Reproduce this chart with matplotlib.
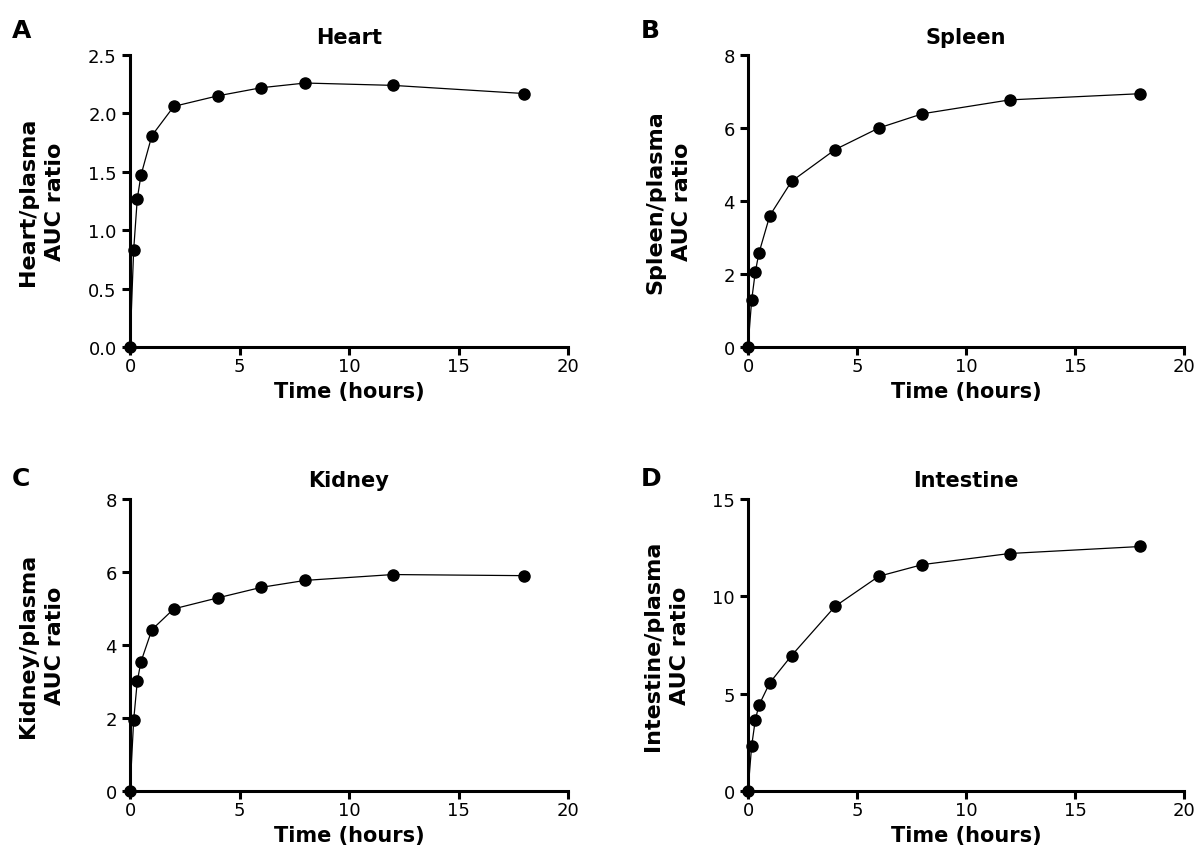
import matplotlib
matplotlib.use('Agg')
import matplotlib.pyplot as plt

# sampling times (hours)
time = [0, 0.167, 0.333, 0.5, 1, 2, 4, 6, 8, 12, 18]

heart = [0, 0.83, 1.27, 1.47, 1.81, 2.06, 2.15, 2.22, 2.26, 2.24, 2.17]
spleen = [0, 1.28, 2.05, 2.57, 3.60, 4.54, 5.41, 6.00, 6.39, 6.77, 6.94]
kidney = [0, 1.94, 3.01, 3.54, 4.42, 4.99, 5.29, 5.58, 5.77, 5.93, 5.90]
intestine = [0, 2.31, 3.64, 4.40, 5.56, 6.96, 9.49, 11.03, 11.63, 12.20, 12.56]

panels = [
    ('A', 'Heart', 'Heart/plasma\nAUC ratio', heart, 2.5, [0, 0.5, 1.0, 1.5, 2.0, 2.5], '%.1f'),
    ('B', 'Spleen', 'Spleen/plasma\nAUC ratio', spleen, 8, [0, 2, 4, 6, 8], '%d'),
    ('C', 'Kidney', 'Kidney/plasma\nAUC ratio', kidney, 8, [0, 2, 4, 6, 8], '%d'),
    ('D', 'Intestine', 'Intestine/plasma\nAUC ratio', intestine, 15, [0, 5, 10, 15], '%d'),
]

W, H = 1199, 862
fig = plt.figure(figsize=(W / 100, H / 100), dpi=100)

# axes boxes in pixels: left, y of x-axis, width
boxes = [(130, 348, 438), (748, 348, 436), (130, 792, 438), (748, 792, 436)]
letter_pos = [(12, 38), (641, 38), (12, 486), (641, 486)]
ylab_x = [-0.148, -0.128, -0.148, -0.133]

for i, (letter, title, ylab, vals, ytop, yticks, fmt) in enumerate(panels):
    left, ybase, width = boxes[i]
    ax = fig.add_axes([left / W, 1 - ybase / H, width / W, 292 / H])
    ax.plot(time, vals, color='black', lw=0.9, marker='o', ms=8, clip_on=False, zorder=3)
    ax.set_xlim(0, 20)
    ax.set_ylim(0, ytop)
    ax.set_xticks([0, 5, 10, 15, 20])
    ax.set_yticks(yticks)
    ax.set_yticklabels([fmt % v for v in yticks])
    for s in ['top', 'right']:
        ax.spines[s].set_visible(False)
    for s in ['left', 'bottom']:
        ax.spines[s].set_linewidth(2.2)
    ax.tick_params(direction='out', length=5.5, width=2.2, labelsize=13)
    ax.tick_params(axis='y', pad=4)
    ax.tick_params(axis='x', pad=2)
    ax.set_title(title, fontsize=15, fontweight='bold', pad=9)
    ax.set_xlabel('Time (hours)', fontsize=15, fontweight='bold', labelpad=4)
    ax.set_ylabel(ylab, fontsize=16, fontweight='bold', linespacing=1.45)
    ax.yaxis.set_label_coords(ylab_x[i], 0.5)
    lx, ly = letter_pos[i]
    fig.text(lx / W, 1 - ly / H, letter, fontsize=18, fontweight='bold', ha='left', va='baseline')

fig.savefig('out.png', dpi=100)
